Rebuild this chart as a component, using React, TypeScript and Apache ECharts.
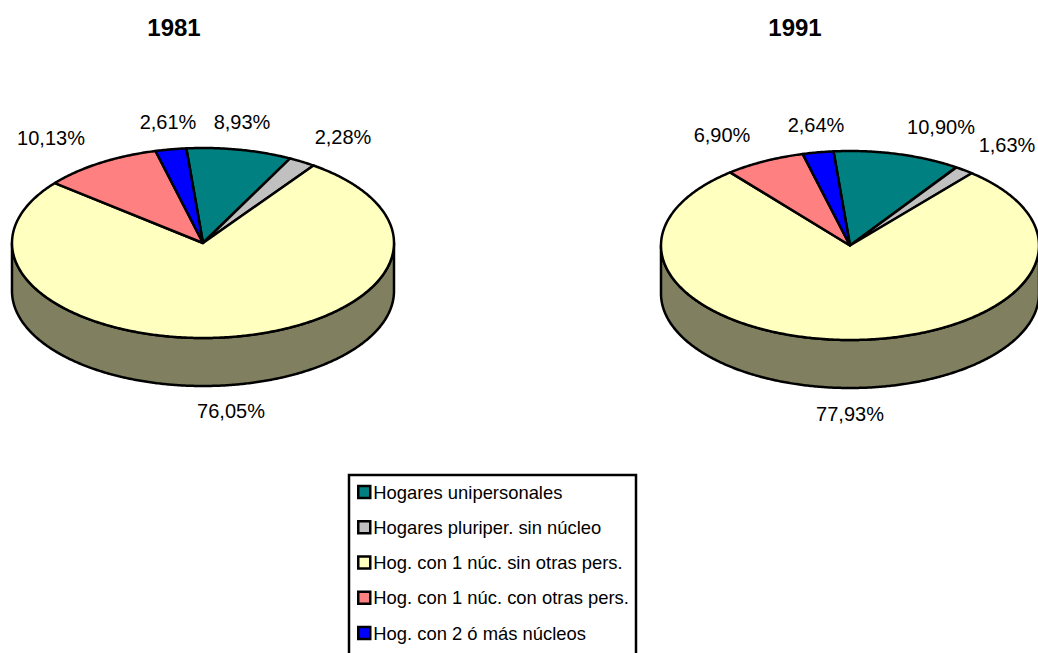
import React, { useEffect, useRef } from "react";
import * as echarts from "echarts";

const years = ["1981", "1991"];
const categories = [
  "Hogares unipersonales",
  "Hogares pluriper. sin núcleo",
  "Hog. con 1 núc. sin otras pers.",
  "Hog. con 1 núc. con otras pers.",
  "Hog. con 2 ó más núcleos",
];
const values1981 = [8.93, 2.28, 76.05, 10.13, 2.61];
const values1991 = [10.9, 1.63, 77.93, 6.9, 2.64];

const colors = ["#008080", "#C0C0C0", "#FFFFC0", "#FF8080", "#0000FF"];
const wallColors = ["#004040", "#606060", "#808060", "#804040", "#000080"];

// Layout of the two pies: centre, radii, wall depth, and label centres per slice.
const pies = [
  {
    cx: 203, cy: 243, rx: 191, ry: 95, depth: 48, titleX: 169,
    labels: [[242, 122], [343, 137], [231, 411], [51, 138], [168, 122]],
  },
  {
    cx: 850, cy: 245.5, rx: 189, ry: 94.5, depth: 48, titleX: 790,
    labels: [[941, 127], [1007, 145], [850, 414], [722, 135], [816, 125]],
  },
];
const START_DEG = -5;
const FONT = '"Liberation Sans", Arial, sans-serif';
const rowValues = [values1981, values1991];

function point(p: any, deg: number, drop = 0) {
  const t = (deg * Math.PI) / 180;
  return [p.cx + p.rx * Math.sin(t), p.cy - p.ry * Math.cos(t) + drop];
}

function arcPoints(p: any, a: number, b: number, drop = 0) {
  const n = Math.max(2, Math.ceil(Math.abs(b - a) / 0.5));
  const pts: number[][] = [];
  for (let i = 0; i <= n; i++) pts.push(point(p, a + ((b - a) * i) / n, drop));
  return pts;
}

function makeRenderItem(catIndex: number) {
  return (params: any, api: any) => {
    const pieIndex = params.dataIndex;
    const p = pies[pieIndex];
    const vals = rowValues[pieIndex];
    const before = vals.slice(0, catIndex).reduce((s, v) => s + v, 0);
    const value = api.value(0);
    const a0 = START_DEG + (before / 100) * 360;
    const a1 = a0 + (value / 100) * 360;
    const children: any[] = [];
    const lineStyle = { stroke: "#000", lineWidth: 2.5, lineJoin: "round" };
    const from = Math.max(a0, 90);
    const to = Math.min(a1, 270);
    if (to > from) {
      const top = arcPoints(p, from, to);
      const bottom = arcPoints(p, to, from, p.depth);
      children.push({
        type: "polygon",
        shape: { points: top.concat(bottom) },
        style: { fill: wallColors[catIndex], ...lineStyle },
      });
    }
    children.push({
      type: "polygon",
      shape: { points: [[p.cx, p.cy], ...arcPoints(p, a0, a1)] },
      style: { fill: colors[catIndex], ...lineStyle },
    });
    const [lx, ly] = p.labels[catIndex];
    children.push({
      type: "text",
      x: lx,
      y: ly,
      style: {
        text: value.toFixed(2).replace(".", ",") + "%",
        fill: "#000",
        font: `20px ${FONT}`,
        align: "center",
        verticalAlign: "middle",
      },
    });
    return { type: "group", children };
  };
}

export default function App() {
  const ref = useRef<HTMLDivElement>(null);
  useEffect(() => {
    document.body.style.margin = "0";
    document.body.style.overflow = "hidden";
    const chart = echarts.init(ref.current!, undefined, { renderer: "svg" });
    chart.setOption({
      animation: false,
      backgroundColor: "#fff",
      title: years.map((y, i) => ({
        text: y,
        left: pies[i].titleX,
        top: 10,
        textAlign: "center",
        textStyle: { fontFamily: FONT, fontWeight: "bold", fontSize: 24, color: "#000" },
      })),
      graphic: [
        {
          type: "rect",
          shape: { x: 349, y: 475, width: 287, height: 220 },
          style: { fill: "#fff", stroke: "#000", lineWidth: 2.5 },
        },
      ],
      legend: {
        orient: "vertical",
        left: 357,
        top: 482,
        padding: 0,
        itemGap: 15.25,
        itemWidth: 12,
        itemHeight: 12,
        icon: "rect",
        selectedMode: false,
        itemStyle: { borderColor: "#000", borderWidth: 2.5 },
        textStyle: { fontFamily: FONT, fontSize: 18.4, color: "#000", padding: [0, 0, 0, -2], lineHeight: 20 },
        data: categories,
      },
      series: categories.map((name, c) => ({
        type: "custom",
        name,
        coordinateSystem: "none",
        itemStyle: { color: colors[c] },
        renderItem: makeRenderItem(c),
        data: [[values1981[c]], [values1991[c]]],
      })),
    });
    return () => chart.dispose();
  }, []);
  return <div ref={ref} style={{ width: 1038, height: 653 }} />;
}
